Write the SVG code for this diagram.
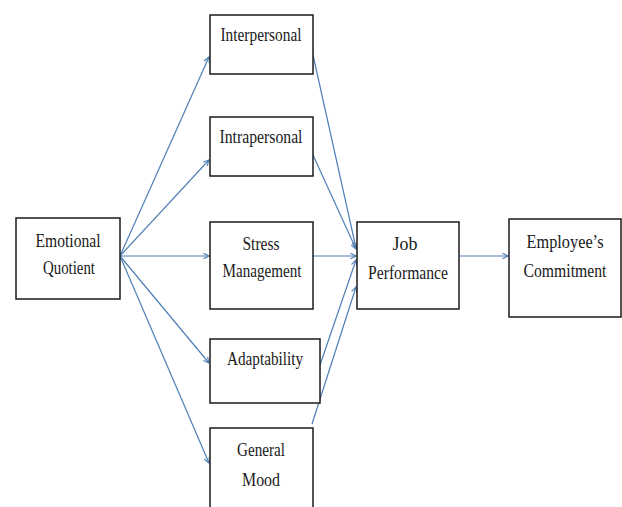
<svg xmlns="http://www.w3.org/2000/svg" width="622" height="507" viewBox="0 0 622 507">
<style>
.box{fill:#fff;stroke:#1a1a1a;stroke-width:1.5}
.c{stroke:#4f7fb5;stroke-width:1.2;fill:none;marker-end:url(#ah)}
</style>
<defs>
<marker id="ah" viewBox="0 0 10 10" refX="9" refY="5" markerWidth="7" markerHeight="7" orient="auto" markerUnits="userSpaceOnUse">
<path d="M1,1 L9,5 L1,9" fill="none" stroke="#4f7fb5" stroke-width="1.6"/>
</marker>
</defs>
<rect width="622" height="507" fill="#fff"/>
<g id="connectors">
<line class="c" x1="120" y1="256" x2="209" y2="57"/>
<line class="c" x1="120" y1="256" x2="209" y2="160"/>
<line class="c" x1="120" y1="256" x2="209" y2="256"/>
<line class="c" x1="120" y1="256" x2="209" y2="363"/>
<line class="c" x1="120" y1="256" x2="209" y2="463"/>
<line class="c" x1="313" y1="55" x2="356" y2="248"/>
<line class="c" x1="313" y1="155" x2="356" y2="249"/>
<line class="c" x1="313" y1="256" x2="356" y2="256"/>
<line class="c" x1="320" y1="365" x2="356" y2="260"/>
<line class="c" x1="312" y1="424" x2="356" y2="287"/>
<line class="c" x1="459" y1="256" x2="508" y2="256"/>
</g>
<g font-family="Liberation Serif, Times New Roman, DejaVu Serif, serif" font-size="18" fill="#1a1a1a" text-anchor="middle" lengthAdjust="spacingAndGlyphs">
<g id="eq"><rect class="box" x="16" y="218" width="104" height="81"/><text x="68" y="247" textLength="65" lengthAdjust="spacingAndGlyphs">Emotional</text><text x="69" y="274" textLength="52" lengthAdjust="spacingAndGlyphs">Quotient</text></g>
<g id="interpersonal"><rect class="box" x="210" y="15" width="103" height="59"/><text x="261" y="41" textLength="81" lengthAdjust="spacingAndGlyphs">Interpersonal</text></g>
<g id="intrapersonal"><rect class="box" x="210" y="117" width="103" height="59"/><text x="261" y="143" textLength="83" lengthAdjust="spacingAndGlyphs">Intrapersonal</text></g>
<g id="stress"><rect class="box" x="210" y="222" width="103" height="87"/><text x="261" y="250" textLength="37" lengthAdjust="spacingAndGlyphs">Stress</text><text x="262" y="277" textLength="79" lengthAdjust="spacingAndGlyphs">Management</text></g>
<g id="adaptability"><rect class="box" x="210" y="339" width="110" height="64"/><text x="265" y="365" textLength="76" lengthAdjust="spacingAndGlyphs">Adaptability</text></g>
<g id="mood"><rect class="box" x="210" y="428" width="103" height="90"/><text x="261" y="456" textLength="48" lengthAdjust="spacingAndGlyphs">General</text><text x="261" y="486" textLength="38" lengthAdjust="spacingAndGlyphs">Mood</text></g>
<g id="job"><rect class="box" x="357" y="222" width="102" height="87"/><text x="405" y="250" textLength="25" lengthAdjust="spacingAndGlyphs">Job</text><text x="408" y="279" textLength="80" lengthAdjust="spacingAndGlyphs">Performance</text></g>
<g id="commitment"><rect class="box" x="509" y="219" width="112" height="98"/><text x="565" y="248" textLength="77" lengthAdjust="spacingAndGlyphs">Employee’s</text><text x="565" y="277" textLength="83" lengthAdjust="spacingAndGlyphs">Commitment</text></g>
</g>
</svg>
